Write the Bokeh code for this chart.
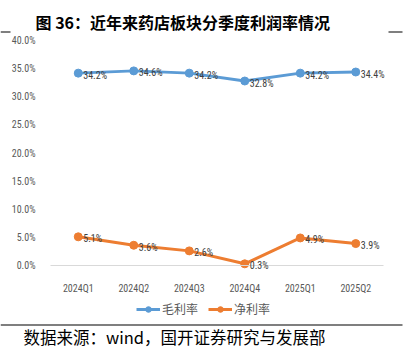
from bokeh.plotting import figure
from bokeh.models import (ColumnDataSource, Label, LabelSet, Legend, LegendItem,
                          BoxAnnotation, PrintfTickFormatter, FixedTicker, Range1d,
                          LinearAxis)
from bokeh.core.properties import value
from bokeh.embed import file_html
from bokeh.resources import INLINE

quarters = ["2024Q1", "2024Q2", "2024Q3", "2024Q4", "2025Q1", "2025Q2"]
gross_margin = [34.2, 34.6, 34.2, 32.8, 34.2, 34.4]
net_margin = [5.1, 3.6, 2.6, 0.3, 4.9, 3.9]
y_ticks = [0, 5, 10, 15, 20, 25, 30, 35, 40]
series_names = ["毛利率", "净利率"]
title_text = "图 36：近年来药店板块分季度利润率情况"
source_text = "数据来源：wind，国开证券研究与发展部"

BLUE = "#5B9BD5"
ORANGE = "#ED7D31"
CJK = "Noto Sans CJK SC"
LAT = "Roboto Condensed, DejaVu Sans Condensed, Liberation Sans Narrow, Lato"

W, H = 413, 358
# plot area in canvas pixels (from top-left)
PL, PR, PT, PB = 50, 383, 40, 265
n = len(quarters)
unit_x = (PR - PL) / n
y_lo, y_hi = y_ticks[0], y_ticks[-1]
unit_y = (PB - PT) / (y_hi - y_lo)

xs = [i + 0.5 for i in range(n)]
src = ColumnDataSource(dict(
    x=xs, g=gross_margin, n=net_margin,
    gl=[f"{v:.1f}%" for v in gross_margin],
    nl=[f"{v:.1f}%" for v in net_margin],
))

p = figure(width=W, height=H,
           x_range=Range1d(-PL / unit_x, (W - PL) / unit_x),
           y_range=Range1d(y_lo - (H - PB) / unit_y, y_hi + PT / unit_y),
           output_backend="svg", toolbar_location=None,
           x_axis_location=None, y_axis_location=None,
           min_border=0)
p.outline_line_color = None
p.xgrid.grid_line_color = None
p.ygrid.grid_line_color = None

yaxis = LinearAxis(fixed_location=0, bounds=(y_lo, y_hi),
                   ticker=FixedTicker(ticks=y_ticks),
                   formatter=PrintfTickFormatter(format="%.1f%%"))
yaxis.axis_line_color = None
yaxis.major_tick_line_color = None
yaxis.minor_tick_line_color = None
yaxis.major_label_text_font = LAT
yaxis.major_label_text_font_size = "10px"
yaxis.major_label_text_color = "#595959"
yaxis.major_label_standoff = 9
p.add_layout(yaxis, "left")

xaxis = LinearAxis(fixed_location=0, bounds=(0, n),
                   ticker=FixedTicker(ticks=xs),
                   major_label_overrides={x: q for x, q in zip(xs, quarters)})
xaxis.axis_line_color = "#D9D9D9"
xaxis.axis_line_width = 1
xaxis.major_tick_line_color = None
xaxis.minor_tick_line_color = None
xaxis.major_label_text_font = LAT
xaxis.major_label_text_font_size = "10px"
xaxis.major_label_text_color = "#595959"
xaxis.major_label_standoff = 11
p.add_layout(xaxis, "below")

lg = p.line("x", "g", source=src, line_color=BLUE, line_width=3)
sg = p.scatter("x", "g", source=src, size=8, fill_color=BLUE, line_color=BLUE)
ln = p.line("x", "n", source=src, line_color=ORANGE, line_width=3)
sn = p.scatter("x", "n", source=src, size=8, fill_color=ORANGE, line_color=ORANGE)

for col, y in (("gl", "g"), ("nl", "n")):
    p.add_layout(LabelSet(x="x", y=y, text=col, source=src, x_offset=5, y_offset=-2,
                          text_align="left", text_baseline="middle",
                          text_font=value(LAT), text_font_size="10px",
                          text_color="#404040"))

legend = Legend(items=[LegendItem(label=series_names[0], renderers=[lg, sg]),
                       LegendItem(label=series_names[1], renderers=[ln, sn])],
                orientation="horizontal", location=(136, H - 310 - 7),
                label_text_font=CJK, label_text_font_size="12px",
                label_text_color="#595959", glyph_width=24, glyph_height=14,
                label_height=14, spacing=10, padding=0, margin=0, label_standoff=2,
                border_line_color=None, background_fill_alpha=0)
p.add_layout(legend, "center")

p.add_layout(Label(x=35, y=H - 21, x_units="screen", y_units="screen", text=title_text,
                   text_font=CJK, text_font_size="16px", text_font_style="bold",
                   text_color="#000000", text_baseline="middle", text_align="left"))
p.add_layout(Label(x=23, y=H - 336, x_units="screen", y_units="screen", text=source_text,
                   text_font=CJK, text_font_size="16.5px",
                   text_color="#000000", text_baseline="middle", text_align="left"))

for l, r, fy in ((0, 10, 31), (388, 402, 31), (0, 402, 324)):
    p.add_layout(BoxAnnotation(left=l, right=r, top=H - fy, bottom=H - fy - 1,
                               left_units="screen", right_units="screen",
                               top_units="screen", bottom_units="screen",
                               fill_color="#000000", fill_alpha=1, line_color=None))

open("out.html", "w").write(file_html(p, INLINE))
